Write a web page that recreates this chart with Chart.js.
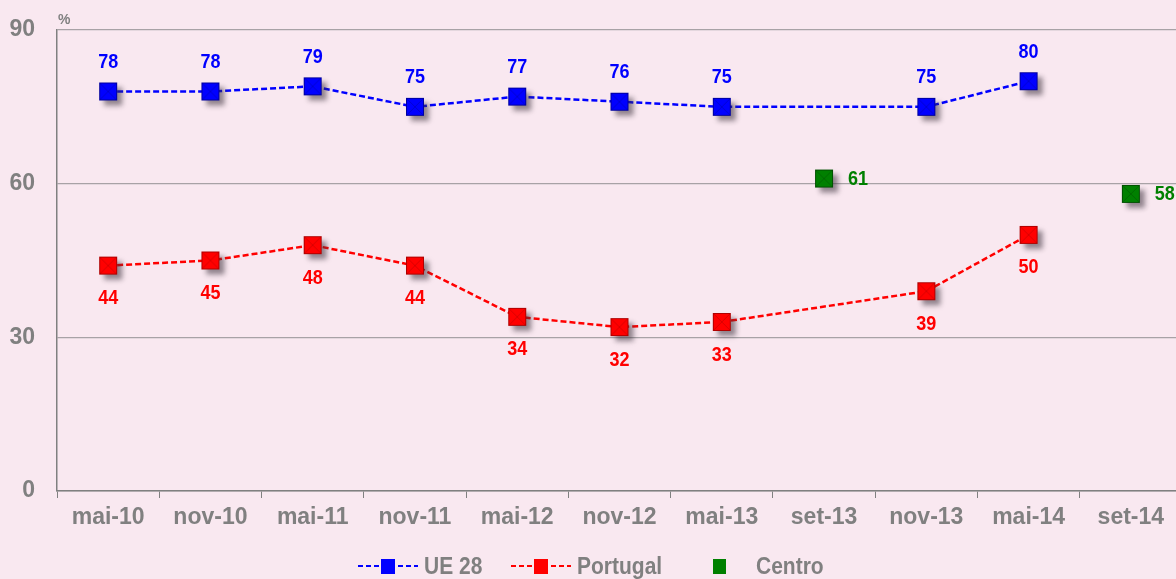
<!DOCTYPE html>
<html>
<head>
<meta charset="utf-8">
<script src="https://cdn.jsdelivr.net/npm/chart.js@4.4.1/dist/chart.umd.min.js"></script>
<style>
  html, body { margin: 0; padding: 0; background: #F9E8F0; overflow: hidden; }
  #wrap { width: 1176px; height: 579px; overflow: hidden; }
  canvas { display: block; }
</style>
</head>
<body>
<div id="wrap"><canvas id="c" width="1200" height="579"></canvas></div>
<script>
const categories = ['mai-10','nov-10','mai-11','nov-11','mai-12','nov-12','mai-13','set-13','nov-13','mai-14','set-14'];
const ue28     = [78, 78, 79, 75, 77, 76, 75, null, 75, 80, null];
const portugal = [44, 45, 48, 44, 34, 32, 33, null, 39, 50, null];
const centro   = [null, null, null, null, null, null, null, 61, null, null, 58];
const yTicks   = [0, 30, 60, 90];

const BLUE = '#0000FF', RED = '#FF0000', GREEN = '#008000', GREY = '#808080';
const FONT = '"Liberation Sans", Arial, sans-serif';

// Square marker with a soft drop shadow and faint diagonals
function marker(fill, edge, size) {
  const c = document.createElement('canvas');
  c.width = 44; c.height = 44;
  const g = c.getContext('2d');
  const o = (44 - size) / 2;
  g.save();
  g.shadowColor = 'rgba(60,50,60,0.55)';
  g.shadowBlur = 5;
  g.shadowOffsetX = 5;
  g.shadowOffsetY = 5;
  g.fillStyle = fill;
  g.fillRect(o, o, size, size);
  g.restore();
  g.strokeStyle = edge;
  g.lineWidth = 1;
  g.strokeRect(o + 0.5, o + 0.5, size - 1, size - 1);
  g.globalAlpha = 0.45;
  g.beginPath();
  g.moveTo(o + 1, o + 1); g.lineTo(o + size - 1, o + size - 1);
  g.moveTo(o + size - 1, o + 1); g.lineTo(o + 1, o + size - 1);
  g.stroke();
  return c;
}

// Text drawn slightly taller than wide
function tallText(ctx, text, x, y, sy) {
  ctx.save();
  ctx.translate(x, y);
  ctx.scale(1, sy);
  ctx.fillText(text, 0, 0);
  ctx.restore();
}

const valueLabels = {
  id: 'valueLabels',
  afterDatasetsDraw(chart) {
    const ctx = chart.ctx;
    ctx.save();
    ctx.font = 'bold 18px ' + FONT;
    ctx.textBaseline = 'middle';
    chart.data.datasets.forEach((ds, i) => {
      const meta = chart.getDatasetMeta(i);
      meta.data.forEach((pt, j) => {
        const v = ds.data[j];
        if (v === null || v === undefined) return;
        ctx.fillStyle = ds.labelColor;
        if (ds.labelPos === 'above') {
          ctx.textAlign = 'center';
          tallText(ctx, String(v), pt.x, pt.y - 29, 1.12);
        } else if (ds.labelPos === 'below') {
          ctx.textAlign = 'center';
          tallText(ctx, String(v), pt.x, pt.y + 33, 1.12);
        } else {
          ctx.textAlign = 'left';
          tallText(ctx, String(v), pt.x + 24, pt.y + 1, 1.12);
        }
      });
    });
    ctx.restore();
  }
};

const extras = {
  id: 'extras',
  afterDraw(chart) {
    const ctx = chart.ctx;
    ctx.save();
    // unit label
    ctx.fillStyle = GREY;
    ctx.font = 'bold 14px ' + FONT;
    ctx.textAlign = 'left';
    ctx.textBaseline = 'middle';
    ctx.fillText('%', 58, 20);

    // legend
    const y = 566;
    ctx.font = 'bold 21px ' + FONT;
    function lineEntry(x0, color, text) {
      ctx.strokeStyle = color;
      ctx.lineWidth = 2;
      ctx.setLineDash([5, 3]);
      ctx.beginPath();
      ctx.moveTo(x0, y); ctx.lineTo(x0 + 60, y);
      ctx.stroke();
      ctx.setLineDash([]);
      ctx.fillStyle = color;
      ctx.fillRect(x0 + 23, y - 7, 14, 15);
      ctx.fillStyle = GREY;
      tallText(ctx, text, x0 + 66, y + 1, 1.18);
    }
    lineEntry(358, BLUE, 'UE 28');
    lineEntry(511, RED, 'Portugal');
    ctx.fillStyle = GREEN;
    ctx.fillRect(713, y - 7, 13, 15);
    ctx.fillStyle = GREY;
    tallText(ctx, 'Centro', 756, y + 1, 1.18);
    ctx.restore();
  }
};

new Chart(document.getElementById('c'), {
  type: 'line',
  data: {
    labels: categories,
    datasets: [
      {
        label: 'UE 28', data: ue28, borderColor: BLUE, backgroundColor: BLUE,
        borderWidth: 2.5, borderDash: [6, 3], spanGaps: true,
        pointStyle: marker(BLUE, '#0000A0', 18), labelColor: BLUE, labelPos: 'above'
      },
      {
        label: 'Portugal', data: portugal, borderColor: RED, backgroundColor: RED,
        borderWidth: 2.5, borderDash: [6, 3], spanGaps: true,
        pointStyle: marker(RED, '#B00000', 18), labelColor: RED, labelPos: 'below'
      },
      {
        label: 'Centro', data: centro, borderColor: GREEN, backgroundColor: GREEN,
        showLine: false,
        pointStyle: marker(GREEN, '#005000', 18), labelColor: GREEN, labelPos: 'right'
      }
    ]
  },
  options: {
    responsive: false,
    animation: false,
    layout: { padding: { top: 30, right: 18, left: 0, bottom: 0 } },
    plugins: { legend: { display: false }, tooltip: { enabled: false } },
    scales: {
      x: {
        offset: true,
        grid: { offset: true, drawOnChartArea: false, drawTicks: true, tickLength: 7, color: GREY },
        border: { color: GREY, width: 1.5 },
        ticks: { color: GREY, font: { family: FONT, size: 23, weight: 'bold' }, padding: 6, maxRotation: 0, autoSkip: false },
        afterFit(s) { s.height = 88; s.paddingLeft = 0; s.paddingRight = 0; }
      },
      y: {
        min: 0, max: 90,
        afterBuildTicks(s) { s.ticks = yTicks.map(v => ({ value: v })); },
        grid: { drawTicks: false, color: '#A8A2A6', lineWidth: 1.2 },
        border: { color: GREY, width: 1.5 },
        ticks: { color: GREY, font: { family: FONT, size: 23, weight: 'bold' }, padding: 22 },
        afterFit(s) { s.width = 57; s.paddingTop = 0; s.paddingBottom = 0; }
      }
    }
  },
  plugins: [valueLabels, extras]
});
</script>
</body>
</html>
